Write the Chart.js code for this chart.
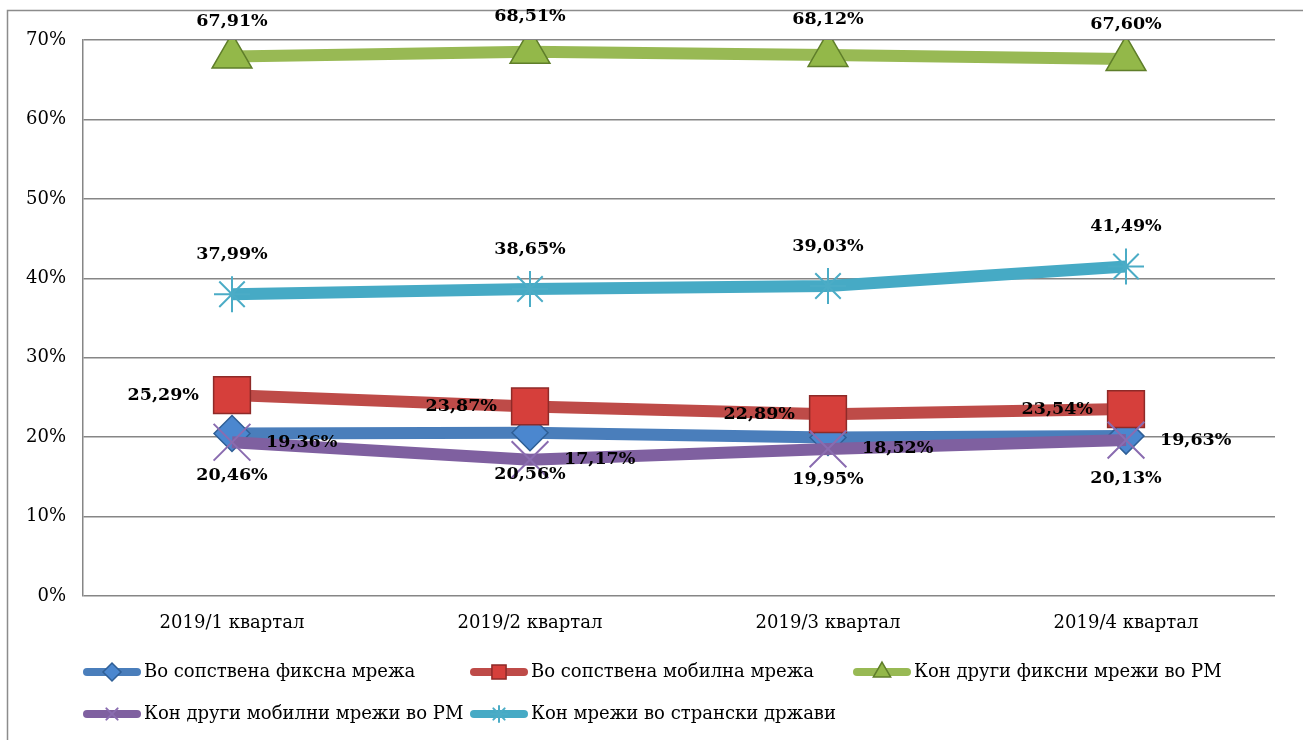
<!DOCTYPE html>
<html>
<head>
<meta charset="utf-8">
<script src="https://cdn.jsdelivr.net/npm/chart.js@4.4.1/dist/chart.umd.min.js"></script>
<style>
    body { margin: 0; background: #fff; overflow: hidden; }
    canvas { display: block; }
</style>
</head>
<body>
<canvas id="chart" width="1303" height="740"></canvas>
<script>
const categories = ['2019/1 квартал', '2019/2 квартал', '2019/3 квартал', '2019/4 квартал'];
const seriesNames = [
    'Во сопствена фиксна мрежа',
    'Во сопствена мобилна мрежа',
    'Кон други фиксни мрежи во РМ',
    'Кон други мобилни мрежи во РМ',
    'Кон мрежи во странски држави'
];
const ownFixed = [20.46, 20.56, 19.95, 20.13];
const ownMobile = [25.29, 23.87, 22.89, 23.54];
const otherFixed = [67.91, 68.51, 68.12, 67.60];
const otherMobile = [19.36, 17.17, 18.52, 19.63];
const foreign = [37.99, 38.65, 39.03, 41.49];
const yTicks = [0, 10, 20, 30, 40, 50, 60, 70];

const FONT = '"DejaVu Serif", "Liberation Serif", serif';

// where each series puts its value label
const labelPos = ['below', 'left', 'above', 'right', 'above'];

const pct = v => v.toFixed(2).replace('.', ',') + '%';

const valueLabels = {
    id: 'valueLabels',
    afterDatasetsDraw(chart) {
        const ctx = chart.ctx;
        ctx.save();
        ctx.font = 'bold 17.5px ' + FONT;
        ctx.fillStyle = '#000';
        chart.data.datasets.forEach((ds, i) => {
            const meta = chart.getDatasetMeta(i);
            meta.data.forEach((pt, j) => {
                const text = pct(ds.data[j]);
                const pos = labelPos[i];
                let x = pt.x, y = pt.y;
                ctx.textBaseline = 'middle';
                if (pos === 'above') {
                    ctx.textAlign = 'center';
                    y -= i === 2 ? 35 : 40;
                } else if (pos === 'below') {
                    ctx.textAlign = 'center';
                    y += 42;
                } else if (pos === 'left') {
                    ctx.textAlign = 'right';
                    x -= 33;
                } else {
                    ctx.textAlign = 'left';
                    x += 34;
                }
                ctx.fillText(text, x, y);
            });
        });
        ctx.restore();
    }
};

// Excel-like frame and grid legend
const frameLegend = {
    id: 'frameLegend',
    beforeDraw(chart) {
        const ctx = chart.ctx;
        ctx.save();
        ctx.strokeStyle = '#8c8c8c';
        ctx.lineWidth = 1.5;
        ctx.beginPath();
        ctx.moveTo(7.5, 740);
        ctx.lineTo(7.5, 10.5);
        ctx.lineTo(1303, 10.5);
        ctx.stroke();
        ctx.restore();
    },
    afterDraw(chart) {
        const ctx = chart.ctx;
        const slots = [[83, 672], [470, 672], [853, 672], [83, 714], [470, 714]];
        ctx.save();
        chart.data.datasets.forEach((ds, i) => {
            const [x, y] = slots[i];
            ctx.strokeStyle = ds.borderColor;
            ctx.lineWidth = 8;
            ctx.lineCap = 'round';
            ctx.beginPath();
            ctx.moveTo(x + 4, y);
            ctx.lineTo(x + 54, y);
            ctx.stroke();
            ctx.fillStyle = ds.pointBackgroundColor;
            ctx.strokeStyle = ds.pointBorderColor;
            ctx.lineWidth = ds.pointBorderWidth;
            Chart.helpers.drawPoint(ctx, {
                pointStyle: ds.pointStyle,
                radius: ds.legendRadius,
                borderWidth: ds.pointBorderWidth,
                rotation: 0
            }, x + 29, y);
            ctx.fillStyle = '#000';
            ctx.font = '18px ' + FONT;
            ctx.textAlign = 'left';
            ctx.textBaseline = 'middle';
            ctx.fillText(ds.label, x + 61, y);
        });
        ctx.restore();
    }
};

const makeSeries = (i, data, color, style, radius, fill, border, bw, order, legendRadius) => ({
    label: seriesNames[i],
    data: data,
    borderColor: color,
    borderWidth: 12,
    tension: 0,
    fill: false,
    pointStyle: style,
    pointRadius: radius,
    pointHoverRadius: radius,
    pointBackgroundColor: fill,
    pointBorderColor: border,
    pointBorderWidth: bw,
    order: order,
    legendRadius: legendRadius
});

new Chart(document.getElementById('chart'), {
    type: 'line',
    data: {
        labels: categories,
        datasets: [
            makeSeries(0, ownFixed, '#4a7ebb', 'rectRot', 18, '#4b87cf', '#2f5f96', 1.5, 3, 9),
            makeSeries(1, ownMobile, '#be4b48', 'rect', 26, '#d63f3b', '#8e2a28', 1.5, 2, 10),
            makeSeries(2, otherFixed, '#98b954', 'triangle', 23, '#93b849', '#5f7e2a', 1.5, 5, 10),
            makeSeries(3, otherMobile, '#7f60a0', 'crossRot', 26, '#8064a2', '#8a6cb0', 2, 1, 8),
            makeSeries(4, foreign, '#46aac5', 'star', 18, '#4bacc6', '#4bacc6', 2, 4, 8)
        ]
    },
    options: {
        responsive: false,
        animation: false,
        layout: { padding: { left: 0, top: 40, right: 28, bottom: 94 } },
        plugins: {
            legend: { display: false },
            tooltip: { enabled: false }
        },
        scales: {
            x: {
                offset: true,
                afterFit: s => { s.height = 50; },
                grid: { display: false, drawTicks: false },
                border: { display: false },
                ticks: { padding: 17, color: '#000', font: { family: FONT, size: 18 } }
            },
            y: {
                min: 0,
                max: 70,
                afterFit: s => { s.width = 83; },
                afterBuildTicks: s => { s.ticks = yTicks.map(v => ({ value: v })); },
                grid: { color: '#868686', lineWidth: 1.5, drawTicks: false },
                border: { color: '#868686', width: 1.5 },
                ticks: {
                    padding: 17,
                    color: '#000',
                    font: { family: FONT, size: 18 },
                    callback: v => v + '%'
                }
            }
        }
    },
    plugins: [frameLegend, valueLabels]
});
</script>
</body>
</html>
